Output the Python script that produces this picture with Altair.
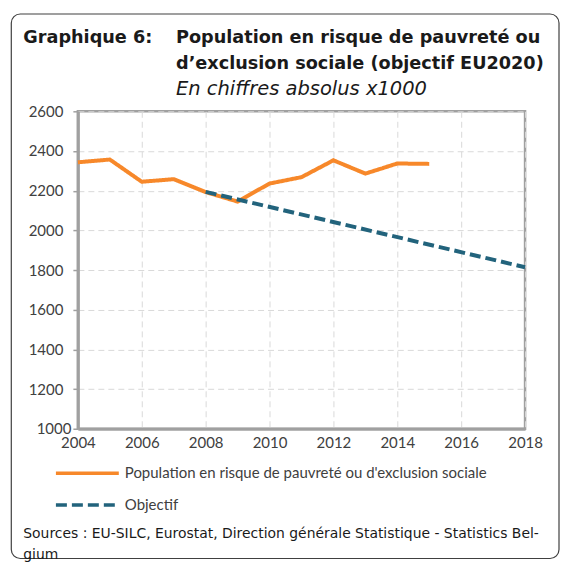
import altair as alt
import pandas as pd

# ---- data ----
years_pop = [2004, 2005, 2006, 2007, 2008, 2009, 2010, 2011, 2012, 2013, 2014, 2015]
values_pop = [2343, 2357, 2245, 2258, 2193, 2145, 2236, 2268, 2353, 2286, 2337, 2335]
years_obj = [2008, 2018]
values_obj = [2194, 1814]

series_pop = "Population en risque de pauvreté ou d'exclusion sociale"
series_obj = "Objectif"

x_ticks = [2004, 2006, 2008, 2010, 2012, 2014, 2016, 2018]
y_ticks = [1000, 1200, 1400, 1600, 1800, 2000, 2200, 2400, 2600]

title_left = "Graphique 6:"
title_lines = ["Population en risque de pauvreté ou",
               "d’exclusion sociale (objectif EU2020)"]
subtitle = "En chiffres absolus x1000"
source_lines = ["Sources : EU-SILC, Eurostat, Direction générale Statistique - Statistics Bel-",
                "gium"]

ORANGE = "#F7882A"
BLUE = "#22637C"
GRAY = "#A0A0A0"
TXT = "#404040"

df = pd.DataFrame({
    "year": years_pop + years_obj,
    "value": values_pop + values_obj,
    "series": [series_pop] * len(years_pop) + [series_obj] * len(years_obj),
})

W, H = 448, 318

leg = dict(title=None, orient="none", legendX=-3, legendY=350,
           direction="vertical",
           symbolType="M-3,0H3", symbolSize=441,
           symbolStrokeWidth=3.5,
           labelFont="Lato", labelFontSize=15, labelColor=TXT, labelLimit=0,
           labelOffset=25, rowPadding=11, padding=0)

lines = alt.Chart(df).mark_line(strokeWidth=4, strokeCap="butt").encode(
    x=alt.X("year:Q",
            scale=alt.Scale(domain=[2004, 2018], nice=False, zero=False),
            axis=alt.Axis(values=x_ticks, format="d", title=None,
                          labelFont="Lato", labelFontSize=15, labelColor=TXT,
                          labelPadding=7, ticks=False, labelFlush=False,
                          domainColor=GRAY, domainWidth=3,
                          grid=True, gridColor="#D9D9D9", gridDash=[6, 4], gridWidth=1)),
    y=alt.Y("value:Q",
            scale=alt.Scale(domain=[1000, 2600], nice=False, zero=False),
            axis=alt.Axis(values=y_ticks, format="d", title=None,
                          labelFont="Lato", labelFontSize=15, labelColor=TXT,
                          labelPadding={"condition": {"test": "datum.value === 1000", "value": 2}, "value": 10},
                          labelFlush=False,
                          tickSize=5, tickColor=GRAY, tickWidth=1.5,
                          domainColor=GRAY, domainWidth=3,
                          grid=True, gridColor="#D9D9D9", gridDash=[6, 4], gridWidth=1)),
    color=alt.Color("series:N",
                    scale=alt.Scale(domain=[series_pop, series_obj], range=[ORANGE, BLUE]),
                    legend=alt.Legend(**leg)),
    strokeDash=alt.StrokeDash("series:N",
                              scale=alt.Scale(domain=[series_pop, series_obj],
                                              range=[[1, 0], [11, 5]]),
                              legend=alt.Legend(**leg)),
    detail="series:N",
)

one = pd.DataFrame({"k": [0]})


def txt(s, x, y, **kw):
    return alt.Chart(one).mark_text(align="left", baseline="middle", **kw).encode(
        x=alt.value(x), y=alt.value(y), text=alt.value(s))


frame = alt.Chart(one).mark_rect(fill="transparent", stroke="#404040", strokeWidth=1.2,
                                 cornerRadius=9).encode(
    x=alt.value(-66.7), x2=alt.value(482), y=alt.value(-97.5), y2=alt.value(448))

t_font = "DejaVu Sans"
texts = [
    txt(title_left, -54.7, -73, font=t_font, fontSize=17.7, fontWeight="bold", color="#1a1a1a"),
    txt(title_lines[0], 98.3, -73, font=t_font, fontSize=17.7, fontWeight="bold", color="#1a1a1a"),
    txt(title_lines[1], 98.3, -47, font=t_font, fontSize=17.7, fontWeight="bold", color="#1a1a1a"),
    txt(subtitle, 98.3, -22, font=t_font, fontSize=19.5, fontStyle="italic", color="#1a1a1a"),
    txt(source_lines[0], -54.7, 423, font=t_font, fontSize=13.95, color="#1a1a1a"),
    txt(source_lines[1], -54.7, 444, font=t_font, fontSize=13.95, color="#1a1a1a"),
]

chart = alt.layer(frame, lines, *texts).properties(
    width=W, height=H,
    padding={"left": 2, "top": 4, "right": 0, "bottom": 0},
).configure_view(stroke=GRAY, strokeWidth=2.5)

chart.save("out.html", embed_options={"renderer": "svg", "actions": False})
